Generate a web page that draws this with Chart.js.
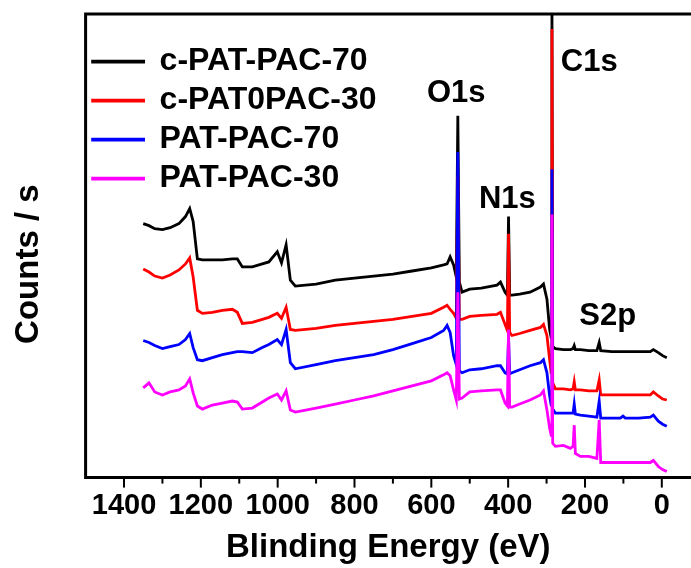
<!DOCTYPE html>
<html>
<head>
<meta charset="utf-8">
<script src="https://cdn.jsdelivr.net/npm/chart.js@4/dist/chart.umd.min.js"></script>
<style>
  html, body { margin: 0; padding: 0; background: #fff; }
  #wrap { width: 691px; height: 568px; position: relative; }
</style>
</head>
<body>
<div id="wrap"><canvas id="xps"></canvas></div>
<script>
// binding energy grid (eV), shared by all four spectra
const energies = [1350, 1335, 1320, 1300, 1280, 1257, 1240, 1229, 1220, 1209,
  1196, 1170, 1144, 1118, 1105, 1092, 1066, 1040, 1023, 1001,
  990, 978, 967, 954, 900, 850, 800, 750, 700, 650,
  600, 568, 559, 551, 542, 535, 531, 527, 520, 500,
  470, 429, 420, 408, 402, 399, 396, 390, 370, 343,
  316, 308, 299, 292, 288, 286, 284, 277, 256, 238,
  231, 228, 225, 212, 190, 169, 163, 159, 130, 108,
  101, 95, 60, 30, 22, 9, -2, -13];

// counts (arbitrary units, curves offset as in the figure)
const cPat70 = [252, 250, 247, 246, 248, 252, 259, 267, 254, 217,
  216, 216, 216, 217, 217, 209, 209, 212, 214, 224,
  213, 231, 196, 190, 192, 196, 198, 200, 202, 205,
  208, 211, 212, 219, 211, 199, 359, 194, 184, 187,
  188, 191, 194, 184, 181, 259, 181, 181, 182, 184,
  189, 192, 177, 147, 139, 480, 130, 128, 127, 127,
  128, 131, 127, 127, 126, 126, 134, 126, 125, 125,
  125, 125, 125, 125, 127, 124, 121, 119];
const cPat30 = [207, 204, 200, 198, 201, 206, 212, 218, 199, 166,
  163, 164, 166, 167, 164, 153, 154, 157, 159, 163,
  158, 169, 147, 146, 148, 151, 153, 155, 157, 160,
  163, 169, 171, 167, 163, 158, 299, 157, 157, 160,
  161, 162, 164, 152, 146, 242, 144, 141, 143, 146,
  149, 152, 141, 117, 104, 445, 94, 88, 88, 87,
  88, 95, 87, 87, 86, 86, 97, 82, 82, 82,
  82, 82, 82, 82, 85, 81, 78, 77];
const pat70 = [136, 134, 131, 128, 130, 132, 137, 143, 129, 117,
  116, 119, 122, 124, 125, 125, 124, 129, 132, 137,
  132, 147, 114, 108, 112, 116, 119, 122, 127, 133,
  139, 146, 151, 144, 121, 112, 323, 106, 104, 107,
  108, 111, 111, 104, 103, 139, 103, 104, 107, 111,
  114, 117, 104, 81, 72, 306, 68, 64, 64, 64,
  64, 73, 63, 62, 61, 60, 76, 59, 59, 59,
  61, 59, 59, 60, 62, 56, 53, 51];
const pat30 = [89, 94, 85, 82, 85, 87, 91, 98, 84, 71,
  68, 72, 74, 76, 75, 68, 69, 75, 79, 83,
  77, 86, 67, 65, 69, 73, 77, 81, 86, 91,
  96, 102, 104, 101, 87, 77, 184, 78, 79, 85,
  86, 87, 87, 74, 71, 147, 70, 70, 73, 77,
  82, 86, 67, 49, 42, 261, 34, 31, 32, 29,
  31, 52, 24, 21, 21, 19, 57, 15, 15, 15,
  15, 15, 15, 15, 17, 11, 8, 6];

const seriesNames = ['c-PAT-PAC-70', 'c-PAT0PAC-30', 'PAT-PAC-70', 'PAT-PAC-30'];
const seriesColors = ['#000000', '#ff0000', '#0000ff', '#ff00ff'];
const seriesValues = [cPat70, cPat30, pat70, pat30];

const tickValues = [1400, 1200, 1000, 800, 600, 400, 200, 0];

// peak annotations, placed in data units
const peakNames = ['O1s', 'N1s', 'C1s', 'S2p'];
const peakEnergy = [535, 402, 189, 141];
const peakCounts = [381, 276, 412, 160];

const FONT = 'Arial, "Liberation Sans", sans-serif';
Chart.defaults.font.family = FONT;
Chart.defaults.color = '#000';

// frame, tick marks and peak names
const framePlugin = {
  id: 'frame',
  afterDatasetsDraw(chart) {
    const { ctx, chartArea: a, scales } = chart;
    const x = scales.x, y = scales.y;
    ctx.save();
    ctx.strokeStyle = '#000';
    ctx.lineWidth = 3;
    ctx.beginPath();
    ctx.moveTo(a.right + 2, a.top);
    ctx.lineTo(a.left, a.top);
    ctx.lineTo(a.left, a.bottom);
    ctx.lineTo(a.right + 2, a.bottom);
    ctx.stroke();

    ctx.lineWidth = 2;
    x.ticks.forEach(t => {
      if (t.value > 1400 || t.value < 0) return;
      const px = x.getPixelForValue(t.value);
      const len = t.value % 200 === 0 ? 10 : 6;
      ctx.beginPath();
      ctx.moveTo(px, a.bottom);
      ctx.lineTo(px, a.bottom + len);
      ctx.stroke();
    });

    ctx.fillStyle = '#000';
    ctx.font = 'bold 31px ' + FONT;
    ctx.textAlign = 'center';
    ctx.textBaseline = 'middle';
    peakNames.forEach((name, i) => {
      ctx.fillText(name, x.getPixelForValue(peakEnergy[i]), y.getPixelForValue(peakCounts[i]));
    });
    ctx.restore();
  }
};

const datasets = seriesNames.map((name, i) => ({
  label: name,
  data: energies.map((e, j) => ({ x: e, y: seriesValues[i][j] })),
  borderColor: seriesColors[i],
  backgroundColor: seriesColors[i],
  borderWidth: 2.8,
  pointRadius: 0,
  tension: 0,
  order: seriesNames.length - i   // last series on top
}));

new Chart(document.getElementById('xps'), {
  type: 'line',
  data: { datasets: datasets },
  plugins: [framePlugin],
  options: {
    responsive: true,
    maintainAspectRatio: false,
    animation: false,
    layout: { padding: { left: 0, right: 0, top: 14, bottom: 0 } },
    plugins: {
      tooltip: { enabled: false },
      legend: {
        position: 'chartArea',
        align: 'start',
        title: { display: true, text: '', font: { size: 10 }, padding: 13.3 },
        labels: {
          boxWidth: 51,
          boxHeight: 1,
          padding: 7,
          color: '#000',
          font: { size: 32, weight: 'bold' },
          sort: (a, b) => a.datasetIndex - b.datasetIndex
        }
      }
    },
    scales: {
      x: {
        type: 'linear',
        reverse: true,
        min: -76,
        max: 1500,
        border: { display: false },
        grid: { display: true, drawOnChartArea: false, drawTicks: true, tickLength: 10, color: 'rgba(0,0,0,0)' },
        ticks: {
          stepSize: 100,
          includeBounds: false,
          autoSkip: false,
          maxRotation: 0,
          padding: 1,
          color: '#000',
          font: { size: 29, weight: 'bold' },
          callback: (v) => tickValues.includes(v) ? String(v) : ''
        },
        title: {
          display: true,
          text: 'Blinding Energy (eV)',
          color: '#000',
          font: { size: 33, weight: 'bold' },
          padding: { top: 4, bottom: 0 }
        }
      },
      y: {
        min: 0,
        max: 460,
        border: { display: false },
        grid: { display: false, drawTicks: false },
        ticks: { display: false },
        title: {
          display: true,
          text: 'Counts / s    ',
          color: '#000',
          font: { size: 33, weight: 'bold' },
          padding: { top: 9, bottom: 37 }
        }
      }
    }
  }
});
</script>
</body>
</html>
